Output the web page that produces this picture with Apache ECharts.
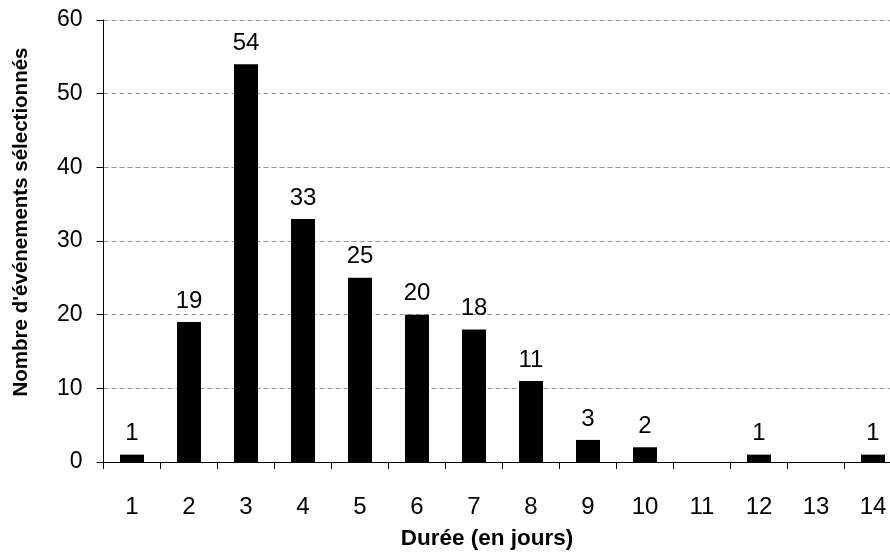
<!DOCTYPE html>
<html><head><meta charset="utf-8">
<script src="https://cdn.jsdelivr.net/npm/echarts@6/dist/echarts.min.js"></script>
<style>html,body{margin:0;padding:0;background:#fff}#c{width:890px;height:552px}</style>
</head><body><div id="c"></div>
<script>
const categories = ['1','2','3','4','5','6','7','8','9','10','11','12','13','14'];
const values = [1,19,54,33,25,20,18,11,3,2,0,1,0,1];
const yTicks = [0,10,20,30,40,50,60];

const chart = echarts.init(document.getElementById('c'));
const F = 'Liberation Sans, Arial, sans-serif';
chart.setOption({
  animation: false,
  grid: {left: 103.5, width: 798, top: 20, height: 442, containLabel: false, outerBoundsMode: 'none'},
  xAxis: {
    type: 'category', data: categories,
    name: 'Durée (en jours)', nameLocation: 'middle', nameGap: 65,
    nameTextStyle: {fontFamily: F, fontWeight: 'bold', fontSize: 22.5, color: '#000', padding: [0, 31, 0, 0]},
    axisLine: {lineStyle: {color: '#000', width: 1}},
    axisTick: {show: true, length: 7, lineStyle: {color: '#000'}},
    axisLabel: {fontFamily: F, fontSize: 24, color: '#000', margin: 33},
    splitLine: {show: false}
  },
  yAxis: {
    type: 'value', min: yTicks[0], max: yTicks[yTicks.length-1], interval: 10,
    name: "Nombre d'événements sélectionnés", nameLocation: 'middle', nameGap: 72,
    nameTextStyle: {fontFamily: F, fontWeight: 'bold', fontSize: 20.5, color: '#000', padding: [0, 0, 0, 38]},
    axisLine: {show: true, lineStyle: {color: '#000', width: 1}},
    axisTick: {show: true, length: 7, lineStyle: {color: '#000'}},
    axisLabel: {fontFamily: F, fontSize: 23, color: '#000', margin: 21},
    splitLine: {show: true, lineStyle: {color: '#999', type: [5, 3], width: 1}}
  },
  series: [{
    type: 'bar', data: values, barWidth: 24,
    itemStyle: {color: '#000'},
    label: {show: true, position: 'top', distance: 9, fontFamily: F, fontSize: 24, color: '#000',
      formatter: p => p.value > 0 ? p.value : ''}
  }]
});
</script></body></html>
